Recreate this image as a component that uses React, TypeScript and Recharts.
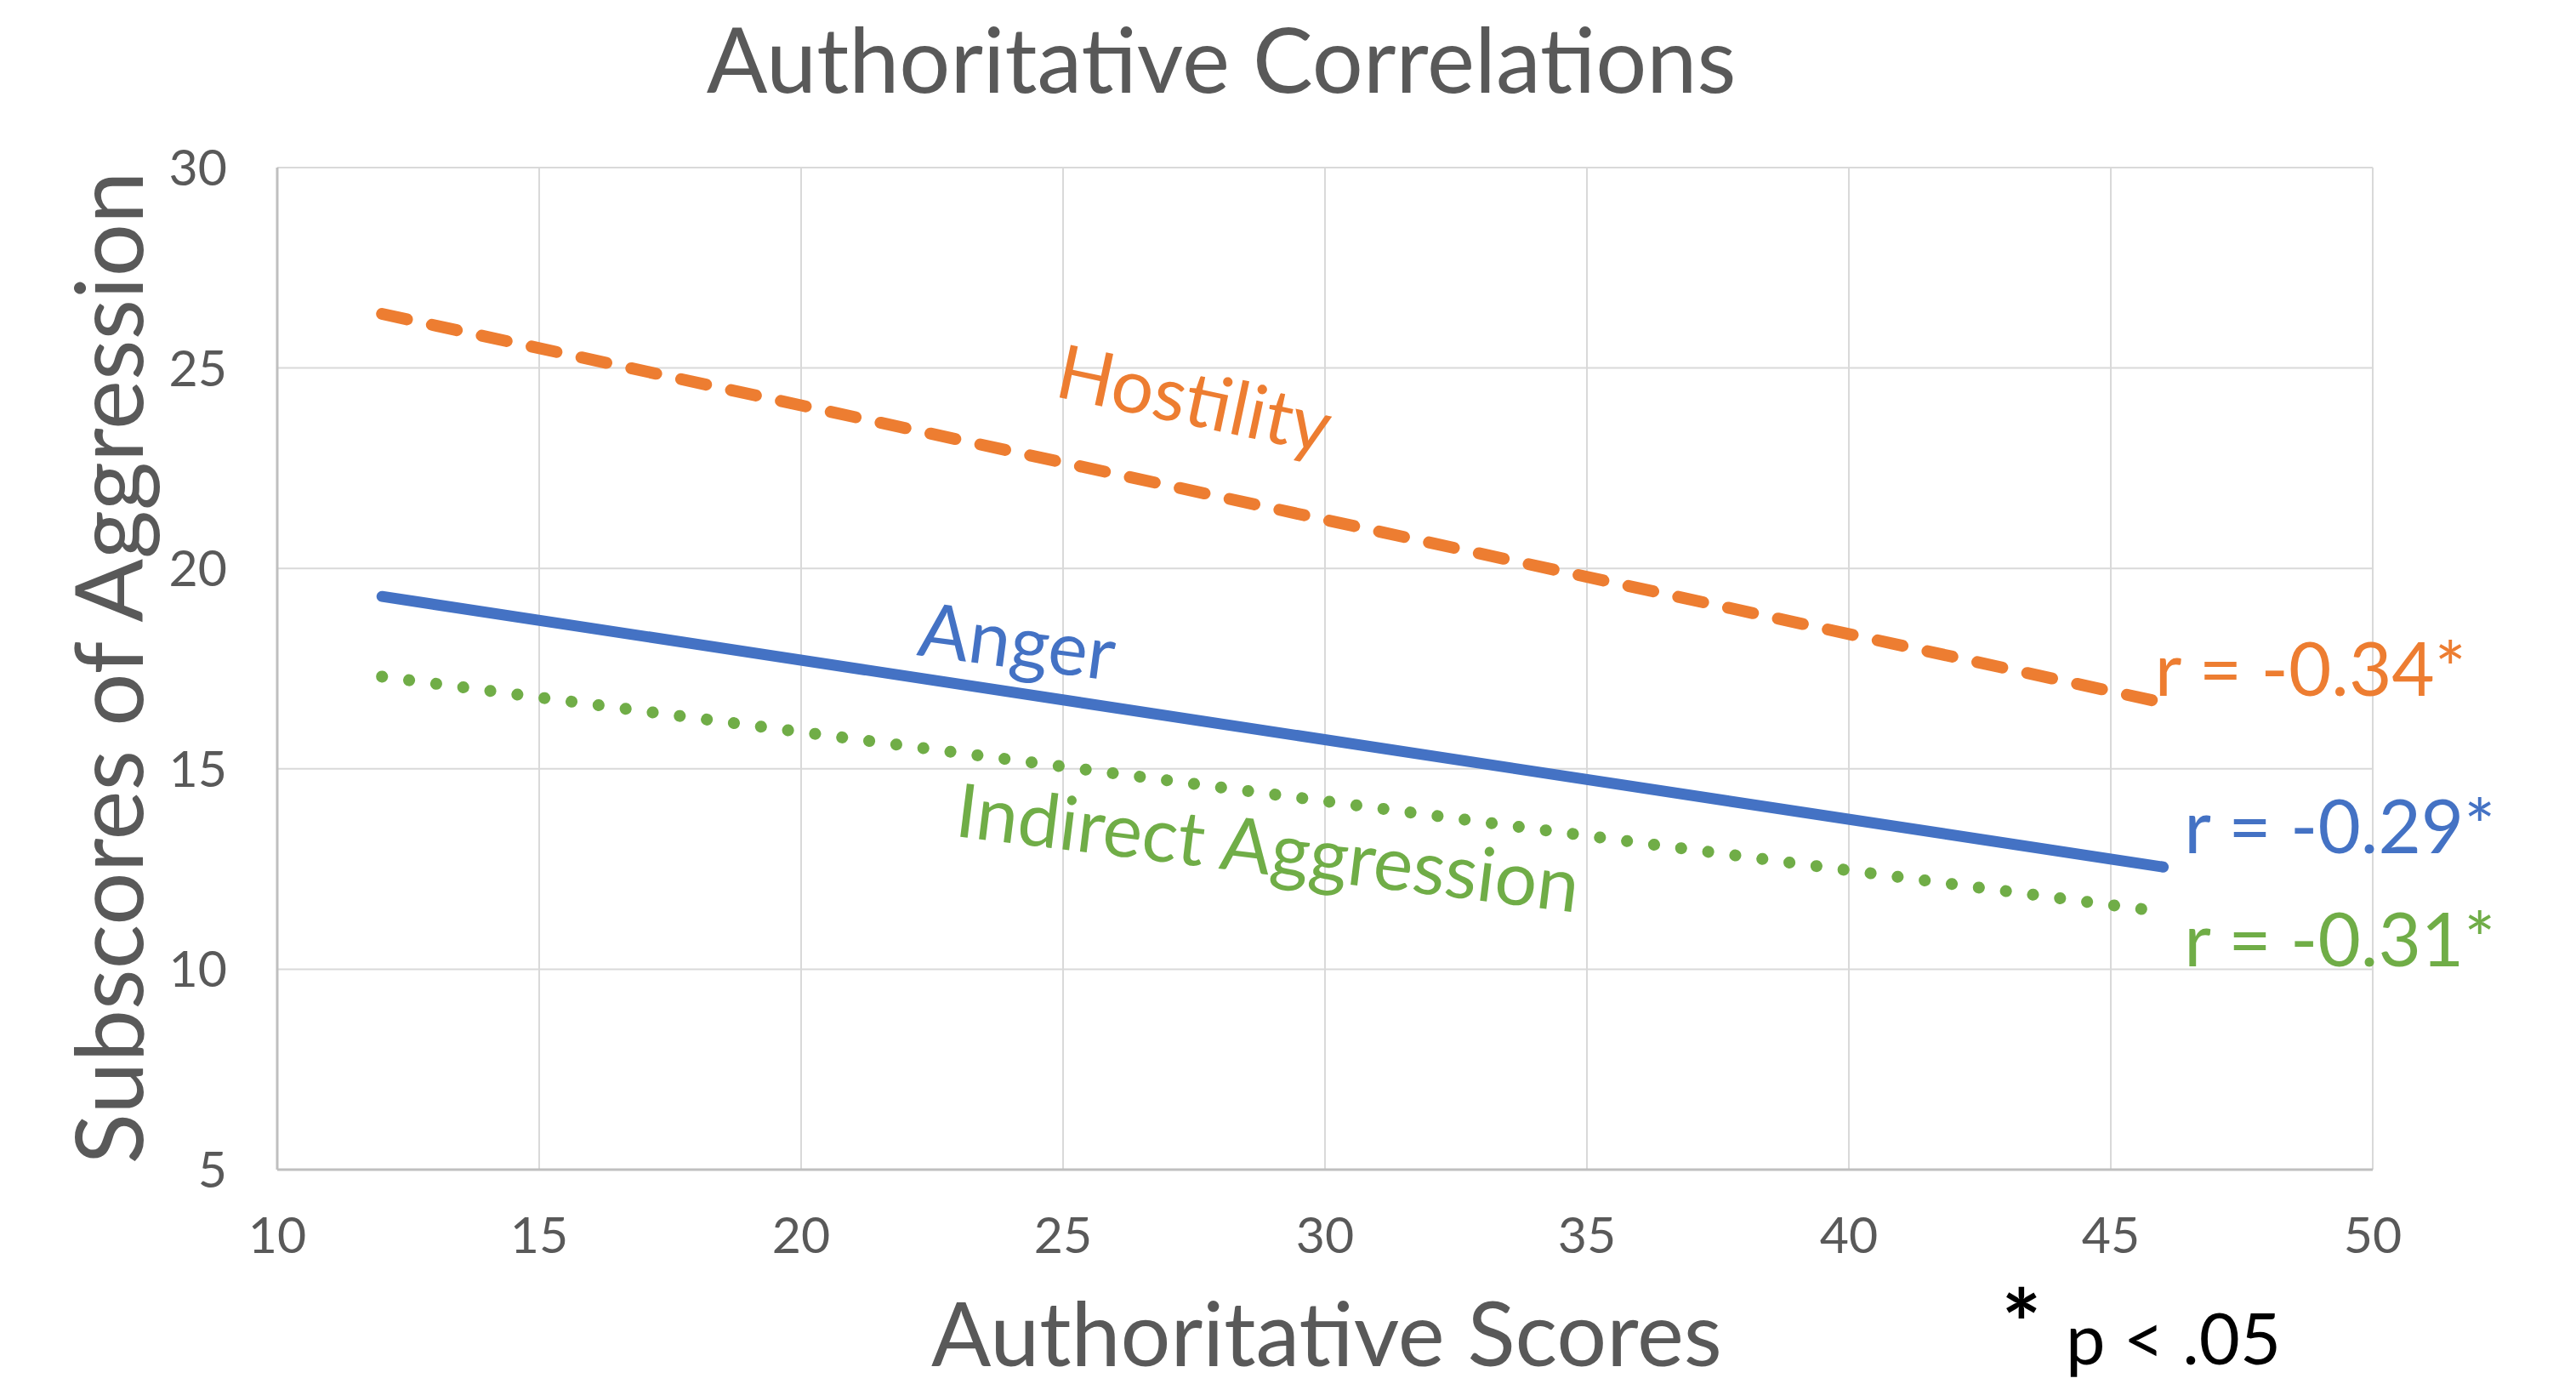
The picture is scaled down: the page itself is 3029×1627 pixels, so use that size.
import { LineChart, Line, XAxis, YAxis, CartesianGrid, ReferenceDot } from "recharts";

const ORANGE = "#ED7D31";
const BLUE = "#4472C4";
const GREEN = "#70AD47";
const GRAY_TEXT = "#595959";
const FONT = "Lato, 'Open Sans', sans-serif";

// axis ticks
const xTicks = [10, 15, 20, 25, 30, 35, 40, 45, 50];
const yTicks = [5, 10, 15, 20, 25, 30];

// trend lines (Authoritative score -> subscore)
const hostility = [
  { x: 12, y: 26.35 },
  { x: 46, y: 16.65 },
];
const anger = [
  { x: 12, y: 19.3 },
  { x: 46, y: 12.55 },
];
const indirect = [
  { x: 12, y: 17.3 },
  { x: 46, y: 11.43 },
];

// text placed on the lines, anchored in data units
const lineNames = [
  { text: "Hostility", x: 27.4, y: 23.58, angle: 12, color: ORANGE },
  { text: "Anger", x: 24.06, y: 17.52, angle: 7.5, color: BLUE },
  { text: "Indirect Aggression", x: 28.85, y: 12.37, angle: 7, color: GREEN },
];

const rValues = [
  { text: "r = -0.34*", x: 45.84, y: 16.82, color: ORANGE },
  { text: "r = -0.29*", x: 46.4, y: 12.9, color: BLUE },
  { text: "r = -0.31*", x: 46.4, y: 10.08, color: GREEN },
];

const W = 3029;
const H = 1627;

export default function App() {
  return (
    <div style={{ position: "absolute", left: 0, top: 0, width: W, height: H, background: "#fff" }}>
      <LineChart width={W} height={H} margin={{ top: 197, right: 239, left: 0, bottom: 0 }}>
        <CartesianGrid stroke="#D9D9D9" strokeWidth={2} />
        <XAxis
          type="number"
          dataKey="x"
          domain={[10, 50]}
          ticks={xTicks}
          interval={0}
          height={252}
          tickSize={0}
          tickMargin={56}
          axisLine={{ stroke: "#BFBFBF", strokeWidth: 3 }}
          tick={{ fill: GRAY_TEXT, fontSize: 59, fontFamily: FONT }}
        />
        <YAxis
          type="number"
          domain={[5, 30]}
          ticks={yTicks}
          interval={0}
          width={326}
          tickSize={0}
          tickMargin={59}
          axisLine={{ stroke: "#BFBFBF", strokeWidth: 3 }}
          tick={{ fill: GRAY_TEXT, fontSize: 59, fontFamily: FONT }}
        />
        <Line
          data={hostility}
          dataKey="y"
          stroke={ORANGE}
          strokeWidth={14}
          strokeDasharray="30 30"
          strokeLinecap="round"
          dot={false}
          activeDot={false}
          isAnimationActive={false}
        />
        <Line
          data={anger}
          dataKey="y"
          stroke={BLUE}
          strokeWidth={13}
          strokeLinecap="round"
          dot={false}
          activeDot={false}
          isAnimationActive={false}
        />
        <Line
          data={indirect}
          dataKey="y"
          stroke={GREEN}
          strokeWidth={14}
          strokeDasharray="0.1 32"
          strokeLinecap="round"
          dot={false}
          activeDot={false}
          isAnimationActive={false}
        />
        {lineNames.map((l) => (
          <ReferenceDot
            key={l.text}
            x={l.x}
            y={l.y}
            r={0}
            shape={(p: any) => (
              <text
                x={p.cx}
                y={p.cy}
                textAnchor="middle"
                transform={`rotate(${l.angle} ${p.cx} ${p.cy})`}
                fill={l.color}
                fontSize={88}
                fontFamily={FONT}
              >
                {l.text}
              </text>
            )}
          />
        ))}
        {rValues.map((l) => (
          <ReferenceDot
            key={l.text}
            x={l.x}
            y={l.y}
            r={0}
            shape={(p: any) => (
              <text x={p.cx} y={p.cy} fill={l.color} fontSize={87} fontFamily={FONT}>
                {l.text}
              </text>
            )}
          />
        ))}
      </LineChart>
      <svg
        width={W}
        height={H}
        style={{ position: "absolute", left: 0, top: 0, pointerEvents: "none" }}
        fontFamily={FONT}
      >
        <text x={1436} y={109} textAnchor="middle" fontSize={106} fill={GRAY_TEXT}>
          Authoritative Correlations
        </text>
        <text
          x={168}
          y={785}
          textAnchor="middle"
          fontSize={110}
          fill={GRAY_TEXT}
          transform="rotate(-90 168 785)"
        >
          Subscores of Aggression
        </text>
        <text x={1560} y={1606} textAnchor="middle" fontSize={104} fill={GRAY_TEXT}>
          Authoritative Scores
        </text>
        <text x={2377} y={1596} textAnchor="middle" fontSize={110} fontWeight="bold" fill="#000">
          *
        </text>
        <text x={2429} y={1604} fontSize={83} fill="#000">
          p &lt; .05
        </text>
      </svg>
    </div>
  );
}
